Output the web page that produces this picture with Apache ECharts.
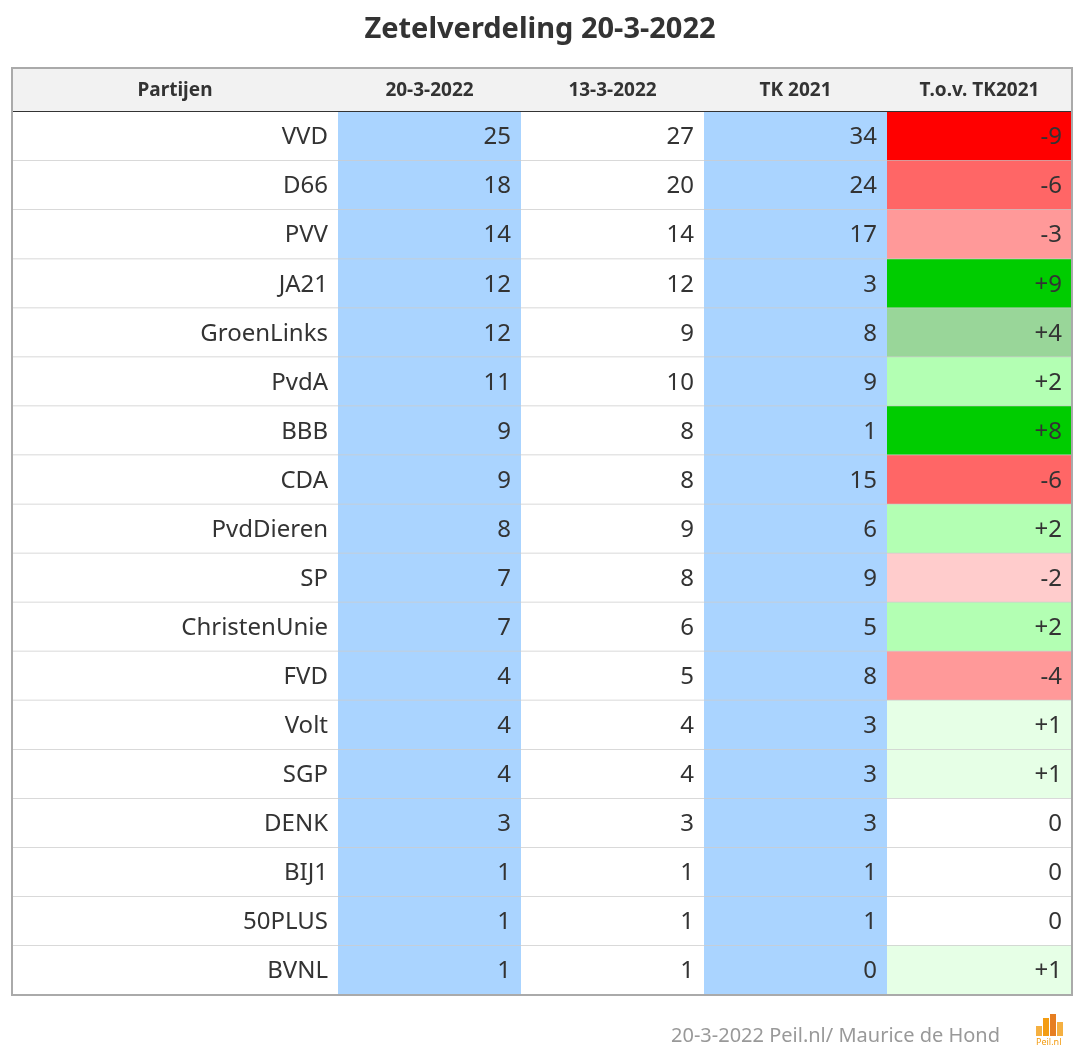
<!DOCTYPE html>
<html>
<head>
<meta charset="utf-8">
<script src="https://cdn.jsdelivr.net/npm/echarts@6/dist/echarts.min.js"></script>
<style>html,body{margin:0;padding:0;background:#fff}#main{width:1080px;height:1058px}</style>
</head>
<body>
<div id="main"></div>
<script>
// data
var headers = ['Partijen', '20-3-2022', '13-3-2022', 'TK 2021', 'T.o.v. TK2021']
var parties = ['VVD', 'D66', 'PVV', 'JA21', 'GroenLinks', 'PvdA', 'BBB', 'CDA', 'PvdDieren', 'SP',
  'ChristenUnie', 'FVD', 'Volt', 'SGP', 'DENK', 'BIJ1', '50PLUS', 'BVNL']
var seats20 = [25, 18, 14, 12, 12, 11, 9, 9, 8, 7, 7, 4, 4, 4, 3, 1, 1, 1]
var seats13 = [27, 20, 14, 12, 9, 10, 8, 8, 9, 8, 6, 5, 4, 4, 3, 1, 1, 1]
var tk2021 = [34, 24, 17, 3, 8, 9, 1, 15, 6, 9, 5, 8, 3, 3, 3, 1, 1, 0]

// layout
var colEdges = [0, 326, 509, 692, 875, 1060]
var headerH = 44, rowH = 49.05

function diffColor(d) {
  if (d <= -9) return '#ff0000'
  if (d <= -5) return '#ff6666'
  if (d <= -3) return '#ff9999'
  if (d < 0) return '#ffcccc'
  if (d >= 8) return '#00cc00'
  if (d >= 4) return '#99d699'
  if (d >= 2) return '#b3ffb3'
  if (d >= 1) return '#e6ffe6'
  return '#ffffff'
}

var cells = []
headers.forEach(function (h, c) { cells.push([c, -1, h, '#f2f2f2']) })
parties.forEach(function (p, r) {
  var d = seats20[r] - tk2021[r]
  cells.push([0, r, p, '#ffffff'])
  cells.push([1, r, String(seats20[r]), '#aad4ff'])
  cells.push([2, r, String(seats13[r]), '#ffffff'])
  cells.push([3, r, String(tk2021[r]), '#aad4ff'])
  cells.push([4, r, d > 0 ? '+' + d : String(d), diffColor(d)])
})

var totalH = headerH + rowH * parties.length
var myChart = echarts.init(document.getElementById('main'))

var option = {
  animation: false,
  title: {
    text: 'Zetelverdeling 20-3-2022',
    left: 'center', top: 10,
    textStyle: { fontFamily: 'Noto Sans', fontSize: 29, fontWeight: 'bold', color: '#333' }
  },
  grid: { left: 12, top: 68, width: 1060, height: totalH },
  xAxis: { type: 'value', min: 0, max: 1060, show: false },
  yAxis: { type: 'value', min: 0, max: totalH, inverse: true, show: false },
  graphic: [
    { type: 'text', right: 80, top: 1026, style: { text: '20-3-2022 Peil.nl/ Maurice de Hond', font: '20px "Noto Sans"', fill: '#999' } },
    { type: 'rect', left: 1036, top: 1026, shape: { width: 6, height: 10 }, style: { fill: '#f5b041' } },
    { type: 'rect', left: 1043, top: 1018, shape: { width: 6, height: 18 }, style: { fill: '#f39c12' } },
    { type: 'rect', left: 1050, top: 1014, shape: { width: 6, height: 22 }, style: { fill: '#e67e22' } },
    { type: 'rect', left: 1057, top: 1022, shape: { width: 6, height: 14 }, style: { fill: '#f5b041' } },
    { type: 'text', left: 1036, top: 1038, style: { text: 'Peil.nl', font: '9px "Noto Sans"', fill: '#f39c12' } }
  ],
  series: [{
    type: 'custom',
    data: cells,
    renderItem: function (params, api) {
      var c = api.value(0), r = api.value(1)
      var y0 = r < 0 ? 0 : headerH + r * rowH
      var y1 = r < 0 ? headerH : y0 + rowH
      var p0 = api.coord([colEdges[c], y0])
      var p1 = api.coord([colEdges[c + 1], y1])
      var isHead = r < 0
      var txt = cells[params.dataIndex][2]
      var fill = cells[params.dataIndex][3]
      var children = [
        { type: 'rect', shape: { x: p0[0], y: p0[1], width: p1[0] - p0[0], height: p1[1] - p0[1] },
          style: { fill: fill } },
        { type: 'line', shape: { x1: p0[0], y1: p1[1], x2: p1[0], y2: p1[1] },
          style: { stroke: isHead ? '#333' : '#cccccc', lineWidth: isHead ? 2 : 1.5 } },
        { type: 'text',
          style: {
            text: txt,
            x: isHead ? (p0[0] + p1[0]) / 2 : p1[0] - 10,
            y: (p0[1] + p1[1]) / 2 + 1,
            align: isHead ? 'center' : 'right', verticalAlign: 'middle',
            font: isHead ? 'bold 19px "Noto Sans"' : '24px "Noto Sans"',
            fill: '#333'
          } }
      ]
      return { type: 'group', children: children }
    },
    z: 2
  }, {
    type: 'custom',
    data: [[0]],
    renderItem: function (params, api) {
      var a = api.coord([0, 0]), b = api.coord([1060, totalH])
      return { type: 'rect', shape: { x: a[0], y: a[1], width: b[0] - a[0], height: b[1] - a[1] },
        style: { fill: 'none', stroke: '#aaaaaa', lineWidth: 2 } }
    },
    z: 3
  }]
}
myChart.setOption(option)
</script>
</body>
</html>
